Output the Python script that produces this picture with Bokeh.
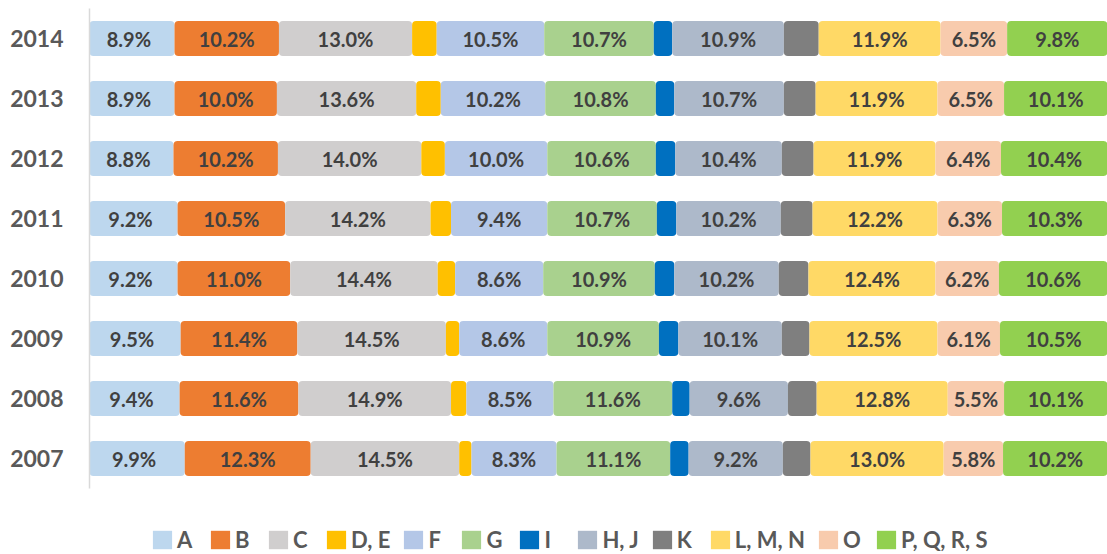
import numpy as np
from bokeh.plotting import figure
from bokeh.models import ColumnDataSource, Range1d, Legend, LegendItem, FixedTicker
from bokeh.core.properties import value
from bokeh.embed import file_html
from bokeh.resources import INLINE

years = ["2007", "2008", "2009", "2010", "2011", "2012", "2013", "2014"]
categories = ["A", "B", "C", "D, E", "F", "G", "I", "H, J", "K", "L, M, N", "O", "P, Q, R, S"]

A = [9.9, 9.4, 9.5, 9.2, 9.2, 8.8, 8.9, 8.9]
B = [12.3, 11.6, 11.4, 11.0, 10.5, 10.2, 10.0, 10.2]
C = [14.5, 14.9, 14.5, 14.4, 14.2, 14.0, 13.6, 13.0]
DE = [1.2, 1.5, 1.3, 1.7, 2.0, 2.3, 2.4, 2.4]
F = [8.3, 8.5, 8.6, 8.6, 9.4, 10.0, 10.2, 10.5]
G = [11.1, 11.6, 10.9, 10.9, 10.7, 10.6, 10.8, 10.7]
I = [1.8, 1.7, 1.9, 1.9, 1.9, 1.9, 1.8, 1.8]
HJ = [9.2, 9.6, 10.1, 10.2, 10.2, 10.4, 10.7, 10.9]
K = [2.7, 2.8, 2.7, 2.9, 3.1, 3.1, 3.1, 3.4]
LMN = [13.0, 12.8, 12.5, 12.4, 12.2, 11.9, 11.9, 11.9]
O = [5.8, 5.5, 6.1, 6.2, 6.3, 6.4, 6.5, 6.5]
PQRS = [10.2, 10.1, 10.5, 10.6, 10.3, 10.4, 10.1, 9.8]

series = [A, B, C, DE, F, G, I, HJ, K, LMN, O, PQRS]
colors = ["#BDD7EE", "#ED7D31", "#D0CECE", "#FFC000", "#B4C7E7", "#A9D18E",
          "#0070C0", "#ADB9CA", "#7F7F7F", "#FFD966", "#F8CBAD", "#92D050"]
unlabeled = {"D, E", "I", "K"}

FONT = "Lato"
ypos = np.arange(len(years), dtype=float)

p = figure(width=1107, height=554, y_range=Range1d(-1.6, len(years) - 0.5),
           x_range=Range1d(0.6, 100), output_backend="svg", toolbar_location=None,
           min_border_left=89, min_border_right=0, min_border_top=8, min_border_bottom=0)

left = np.zeros(len(years))
items = []
for cat, vals, col in zip(categories, series, colors):
    vals = np.array(vals, dtype=float)
    right = left + vals
    src = ColumnDataSource(dict(y=ypos, left=left, right=right,
                                mid=(left + right) / 2,
                                txt=[f"{v:.1f}%" for v in vals]))
    r = p.hbar(y="y", left="left", right="right", height=0.583, source=src,
               fill_color=col, line_color=None, border_radius=4)
    items.append(LegendItem(label=cat, renderers=[r]))
    if cat not in unlabeled:
        p.text(x="mid", y="y", text="txt", source=src, text_align="center",
               text_baseline="middle", text_color="#404040",
               text_font=value(FONT), text_font_style="bold", text_font_size="20px")
    left = right

p.xaxis.visible = False
p.xgrid.visible = False
p.ygrid.visible = False
p.outline_line_color = None

legend = Legend(items=items, orientation="horizontal", location=(61, 1))
legend.glyph_width = 24
legend.glyph_height = 23
legend.label_standoff = 3
legend.spacing = 11
legend.padding = 0
legend.margin = 0
legend.border_line_color = None
legend.background_fill_alpha = 0
legend.label_text_font = FONT
legend.label_text_font_style = "bold"
legend.label_text_font_size = "22px"
legend.label_text_color = "#595959"
legend.label_height = 23
p.add_layout(legend, "center")

ax = p.yaxis[0]
ax.ticker = FixedTicker(ticks=list(ypos))
ax.major_label_overrides = {float(i): y for i, y in zip(ypos, years)}
ax.bounds = (-0.5, len(years) - 0.5)
ax.axis_line_color = "#D9D9D9"
ax.axis_line_width = 1.5
ax.major_tick_line_color = None
ax.major_tick_out = 0
ax.major_tick_in = 0
ax.minor_tick_line_color = None
ax.major_label_standoff = 26
ax.major_label_text_font = FONT
ax.major_label_text_font_style = "bold"
ax.major_label_text_font_size = "23px"
ax.major_label_text_color = "#595959"

open("out.html", "w").write(file_html(p, INLINE))
